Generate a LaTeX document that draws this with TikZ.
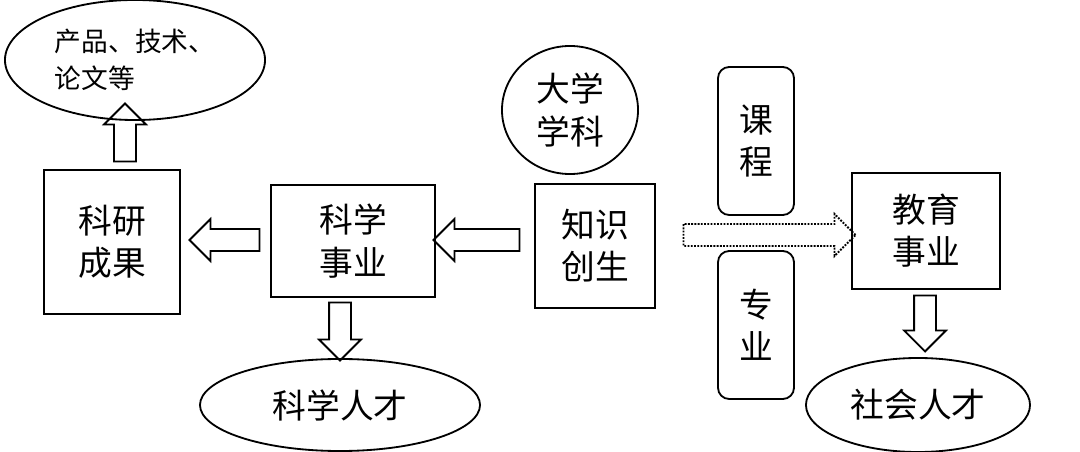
\documentclass[tikz,border=0pt]{standalone}
\usepackage{fontspec}
\setmainfont{Liberation Serif}
\newfontfamily\cjk{Noto Sans CJK SC}
\usetikzlibrary{shapes.geometric, shapes.arrows}

\tikzset{
  box/.style={draw, line width=1.3pt, align=center, font=\cjk\fontsize{24}{30}\selectfont},
  oval/.style={draw, line width=1.3pt, ellipse, align=center, font=\cjk\fontsize{24}{30}\selectfont},
  fat/.style={draw, line width=1.3pt, single arrow, single arrow head extend=0.25cm,
    inner sep=0.25cm}
}

\begin{document}
\begin{tikzpicture}[x=0.025cm, y=-0.025cm]
    \useasboundingbox (0,0) rectangle (1080,452);

    % 左侧
    \node[oval, minimum width=6.5cm, minimum height=3cm,
          font=\cjk\fontsize{19}{26}\selectfont, align=left] (prod) at (135,60) {产品、技术、\\论文等};
    \node[box, minimum width=3.4cm, minimum height=3.6cm] (res) at (112,242) {科研\\成果};
    \node[box, minimum width=4.1cm, minimum height=2.8cm] (sci) at (353,241) {科学\\事业};
    \node[oval, minimum width=7cm, minimum height=2.3cm] (scit) at (340,405) {科学人才};

    % 中间
    \node[oval, minimum width=3.4cm, minimum height=3.2cm] (disc) at (570,110) {大学\\学科};
    \node[box, minimum width=3cm, minimum height=3.1cm] (know) at (595,246) {知识\\创生};
    \node[box, rounded corners=8pt, minimum width=1.9cm, minimum height=3.7cm] (cour) at (756,141) {课\\程};
    \node[box, rounded corners=8pt, minimum width=1.9cm, minimum height=3.7cm] (major) at (756,325) {专\\业};

    % 右侧
    \node[box, minimum width=3.7cm, minimum height=2.9cm] (edu) at (926,231) {教育\\事业};
    \node[oval, minimum width=5.6cm, minimum height=2.35cm] (soct) at (918,405) {社会人才};

    % 空心箭头
    \node[fat, minimum height=1.45cm, shape border rotate=90] (a1) at (125,138) {};
    \node[fat, minimum height=1.75cm, shape border rotate=180] (a2) at (230,240) {};
    \node[fat, minimum height=1.45cm, shape border rotate=270] (a3) at (340,326) {};
    \node[fat, minimum height=2.15cm, shape border rotate=180] (a4) at (482,240) {};
    \node[fat, minimum height=1.4cm, shape border rotate=270] (a5) at (925,318) {};
    \node[fat, densely dotted, minimum height=4.3cm] (a6) at (764,235) {};
\end{tikzpicture}
\end{document}
